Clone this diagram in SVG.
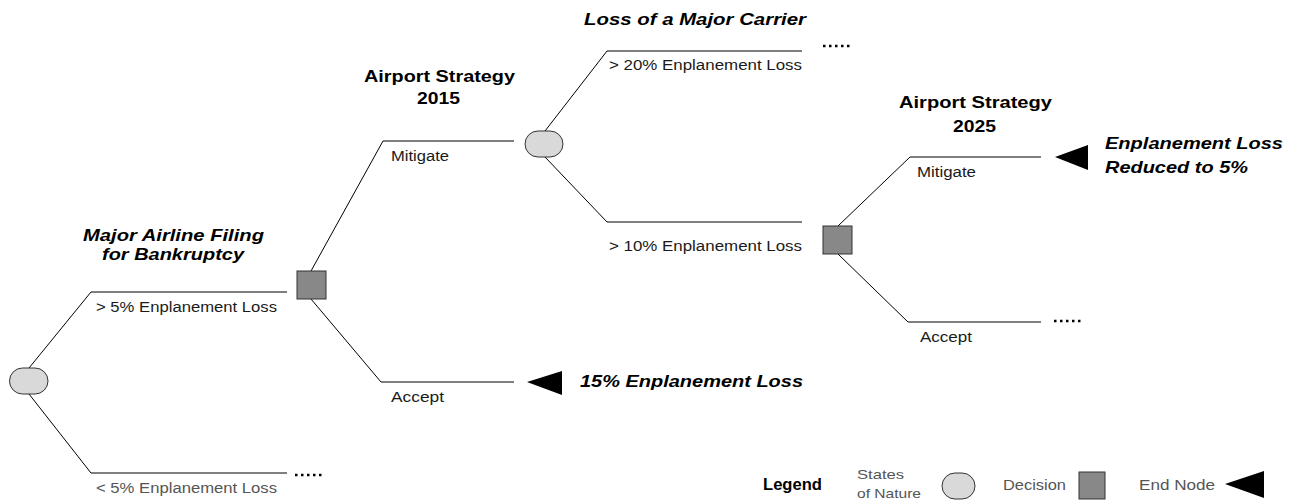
<svg xmlns="http://www.w3.org/2000/svg" width="1291" height="500" viewBox="0 0 1291 500">
<defs>
<style>
.bg{fill:#ffffff}
.ln{stroke:#000;stroke-width:1;fill:none}
.dots{stroke:#000;stroke-width:2.5;stroke-dasharray:2.5 3.5;fill:none}
.chance{fill:#d9d9d9;stroke:#333;stroke-width:1}
.dec{fill:#888888;stroke:#333;stroke-width:1}
.end{fill:#000}
.lbl{font-family:"Liberation Sans",Arial,sans-serif;font-size:14px;fill:#1a1a1a}
.grey{fill:#555}
.ttl{font-family:"Liberation Sans",Arial,sans-serif;font-size:17px;font-weight:bold;fill:#000}
.it{font-style:italic}
.leg{font-family:"Liberation Sans",Arial,sans-serif;font-size:13px;fill:#555}
</style>
</defs>
<rect class="bg" x="0" y="0" width="1291" height="500"/>
<g id="connectors">
<polyline class="ln" points="29,368 91,292 287,292"/>
<polyline class="ln" points="29,394 91,473 287,473"/>
<polyline class="ln" points="311,271 383,141 514,141"/>
<polyline class="ln" points="311,299 381,382 514,382"/>
<polyline class="ln" points="545,131 607,51 802,51"/>
<polyline class="ln" points="545,157 607,222 802,222"/>
<polyline class="ln" points="838,226 910,157 1041,157"/>
<polyline class="ln" points="838,254 908,322 1041,322"/>
<line class="dots" x1="295" y1="475" x2="325" y2="475"/>
<line class="dots" x1="823" y1="46" x2="853" y2="46"/>
<line class="dots" x1="1054" y1="321" x2="1084" y2="321"/>
</g>
<g id="labels">
<text class="lbl" x="96" y="312" textLength="181" lengthAdjust="spacingAndGlyphs">&gt; 5% Enplanement Loss</text>
<text class="lbl grey" x="96" y="493" textLength="181" lengthAdjust="spacingAndGlyphs">&lt; 5% Enplanement Loss</text>
<text class="lbl" x="391" y="161" textLength="58" lengthAdjust="spacingAndGlyphs">Mitigate</text>
<text class="lbl" x="391" y="402" textLength="53" lengthAdjust="spacingAndGlyphs">Accept</text>
<text class="lbl" x="609" y="70" textLength="193" lengthAdjust="spacingAndGlyphs">&gt; 20% Enplanement Loss</text>
<text class="lbl" x="609" y="251" textLength="193" lengthAdjust="spacingAndGlyphs">&gt; 10% Enplanement Loss</text>
<text class="lbl" x="917" y="177" textLength="59" lengthAdjust="spacingAndGlyphs">Mitigate</text>
<text class="lbl" x="920" y="342" textLength="52" lengthAdjust="spacingAndGlyphs">Accept</text>
</g>
<g id="root-chance">
<rect class="chance" x="9.5" y="368" width="38.5" height="26" rx="13" ry="13"/>
<text class="ttl it" x="83" y="241" textLength="181" lengthAdjust="spacingAndGlyphs">Major Airline Filing</text>
<text class="ttl it" x="102" y="260" textLength="142" lengthAdjust="spacingAndGlyphs">for Bankruptcy</text>
</g>
<g id="decision-2015">
<rect class="dec" x="297" y="271" width="29" height="28"/>
<text class="ttl" x="364" y="82" textLength="151" lengthAdjust="spacingAndGlyphs">Airport Strategy</text>
<text class="ttl" x="417" y="104" textLength="43" lengthAdjust="spacingAndGlyphs">2015</text>
</g>
<g id="end-15">
<polygon class="end" points="527,382 562,371 562,395"/>
<text class="ttl it" x="580" y="387" textLength="223" lengthAdjust="spacingAndGlyphs">15% Enplanement Loss</text>
</g>
<g id="carrier-chance">
<rect class="chance" x="525" y="131" width="38" height="26" rx="13" ry="13"/>
<text class="ttl it" x="584" y="25" textLength="222" lengthAdjust="spacingAndGlyphs">Loss of a Major Carrier</text>
</g>
<g id="decision-2025">
<rect class="dec" x="823" y="226" width="29" height="28"/>
<text class="ttl" x="899" y="108" textLength="153" lengthAdjust="spacingAndGlyphs">Airport Strategy</text>
<text class="ttl" x="953" y="132" textLength="43" lengthAdjust="spacingAndGlyphs">2025</text>
</g>
<g id="end-5">
<polygon class="end" points="1055,157 1088,145 1088,170"/>
<text class="ttl it" x="1105" y="149" textLength="178" lengthAdjust="spacingAndGlyphs">Enplanement Loss</text>
<text class="ttl it" x="1105" y="173" textLength="143" lengthAdjust="spacingAndGlyphs">Reduced to 5%</text>
</g>
<g id="legend">
<text class="ttl" x="763" y="490" textLength="59" lengthAdjust="spacingAndGlyphs">Legend</text>
<text class="leg" x="857" y="479" textLength="47" lengthAdjust="spacingAndGlyphs">States</text>
<text class="leg" x="857" y="498" textLength="64" lengthAdjust="spacingAndGlyphs">of Nature</text>
<rect class="chance" x="942" y="473" width="33" height="26" rx="13" ry="13"/>
<text class="leg" x="1003" y="490" style="font-size:14px" textLength="63" lengthAdjust="spacingAndGlyphs">Decision</text>
<rect class="dec" x="1079" y="472" width="26" height="27"/>
<text class="leg" x="1139" y="490" style="font-size:14px" textLength="76" lengthAdjust="spacingAndGlyphs">End Node</text>
<polygon class="end" points="1225,484 1264,471 1264,498"/>
</g>
</svg>
